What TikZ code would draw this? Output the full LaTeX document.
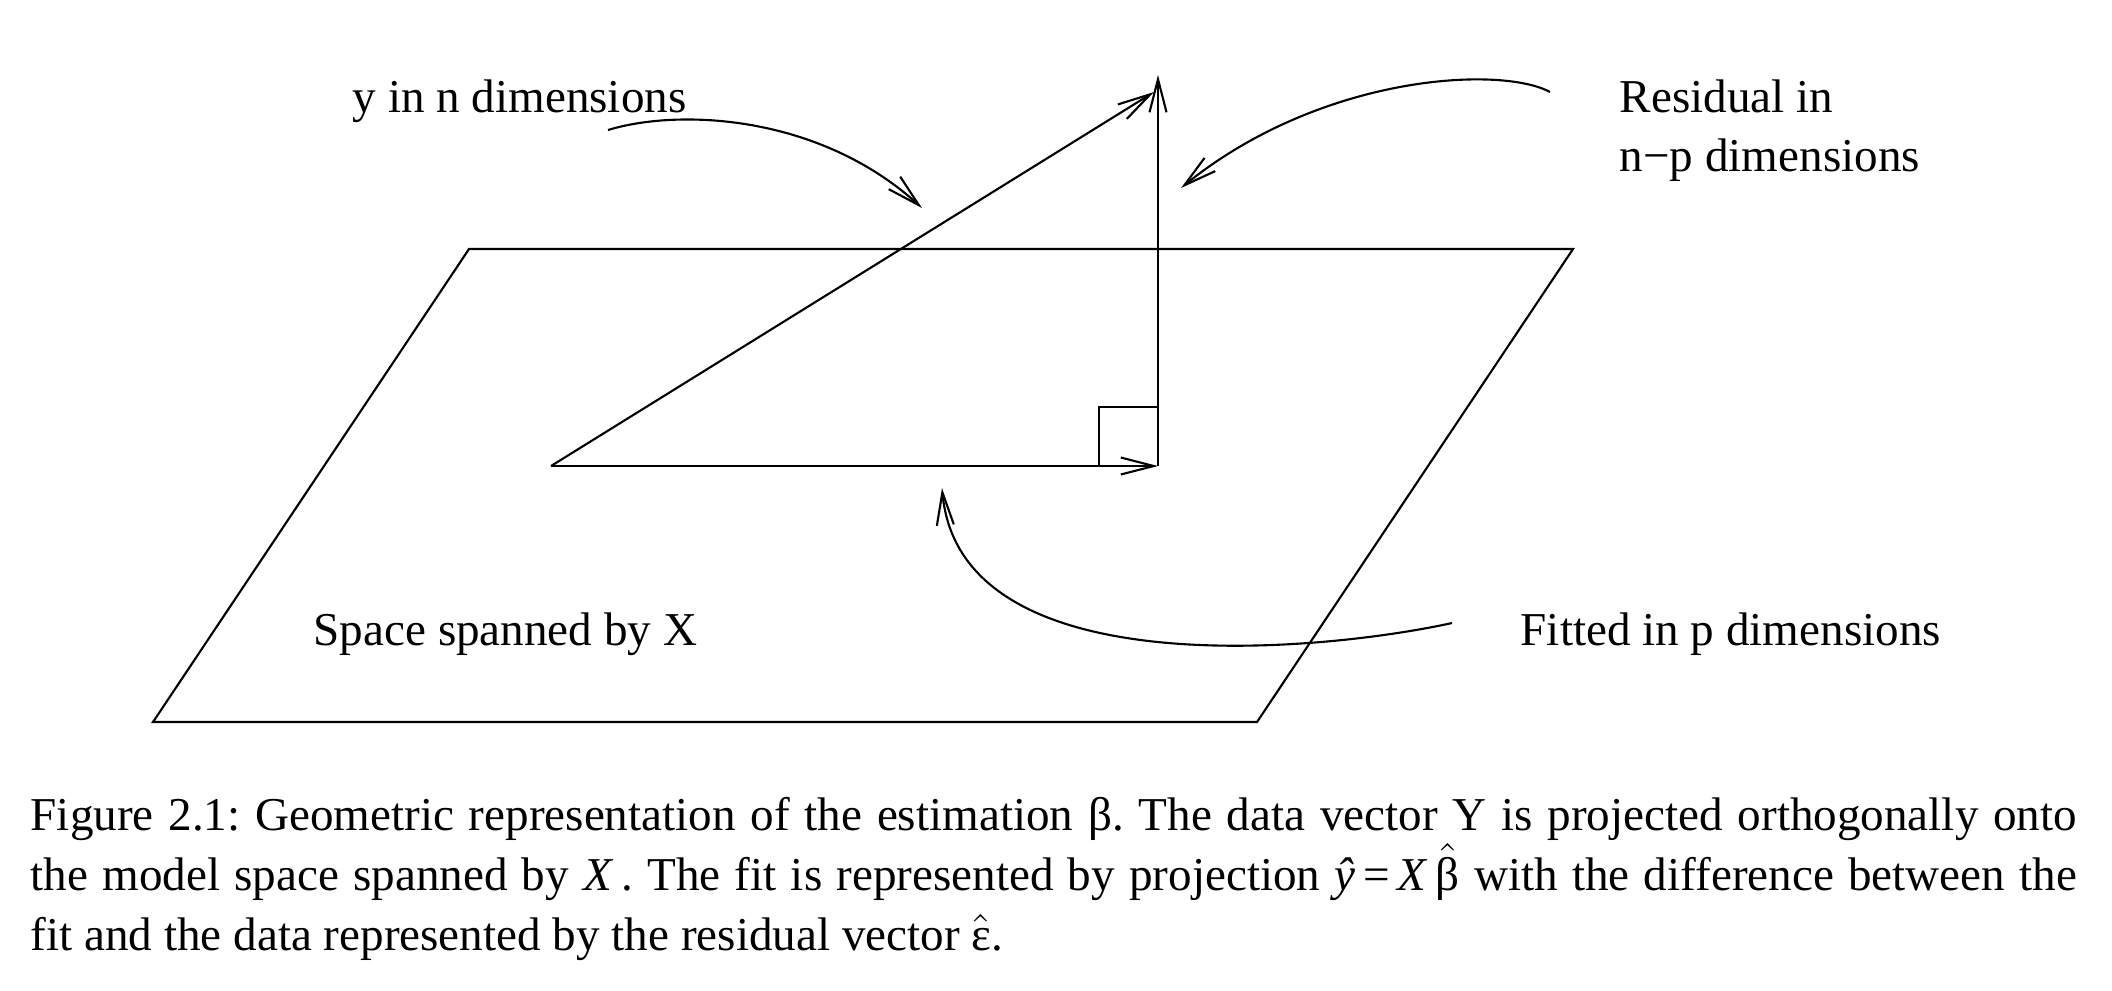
\documentclass[tikz,border=0pt]{standalone}
\usepackage{fontspec}
\setmainfont{Liberation Serif}
\usetikzlibrary{arrows.meta}
\newcommand{\lw}{0.6pt}
\newcommand{\tipLen}{3.3mm}
\newcommand{\tipWid}{1.7mm}
\tikzset{
	vec/.style={line width=\lw, -{Straight Barb[length=\tipLen, width=\tipWid]}},
	plane/.style={line width=\lw, line join=miter},
	lbl/.style={anchor=base west, inner sep=0pt, font=\fontsize{13.4pt}{16.6pt}\selectfont},
}

\begin{document}
\frenchspacing
\begin{tikzpicture}[x=0.01cm, y=-0.01cm]
	\useasboundingbox (0,0) rectangle (2112,990);
	% the model space
	\coordinate (tl) at (469,249);
	\coordinate (tr) at (1573,249);
	\coordinate (br) at (1257,722);
	\coordinate (bl) at (153,722);
	\draw[plane] (tl) -- (tr) -- (br) -- (bl) -- cycle;
	% vectors
	\coordinate (O) at (551,466);
	\coordinate (P) at (1158,466);
	\coordinate (Y) at (1158,75);
	\coordinate (yend) at (1154,92);
	\draw[vec] (O) -- (yend);
	\draw[vec] (P) -- (Y);
	\draw[vec] (O) -- (P);
	\draw[line width=\lw] (1158,407) -| (1099,466);
	% labels
	\node[lbl] (ylab) at (352,112) {y in n dimensions};
	\node[lbl, align=left] (reslab) at (1619,171) {Residual in\\n−p dimensions};
	\node[lbl] (spacelab) at (313,645) {Space spanned by X};
	\node[lbl] (fitlab) at (1520,645) {Fitted in p dimensions};
	% pointers
	\coordinate (ys) at (608,130);
	\coordinate (ye) at (922,208);
	\coordinate (rs) at (1550,92);
	\coordinate (re) at (1181,188);
	\coordinate (fs) at (1452,623);
	\coordinate (fe) at (942,488);
	\draw[vec] (ys) .. controls (680,108) and (820,115) .. (ye);
	\draw[vec] (rs) .. controls (1500,65) and (1320,75) .. (re);
	\draw[vec] (fs) .. controls (1330,650) and (960,690) .. (fe);
	% caption
	\node[lbl, font=\fontsize{13.4pt}{17.1pt}\selectfont, text width=20.45cm, align=justify] (cap) at (30,830) {Figure 2.1: Geometric representation of the estimation β. The data vector Y is projected orthogonally onto\linebreak the model space spanned by \textit{X}\,. The fit is represented by projection \textit{ŷ}\,=\,\textit{X}\,$\hat{\mbox{β}}$ with the difference between the\linebreak fit and the data represented by the residual vector $\hat{\mbox{ε}}$.};
\end{tikzpicture}
\end{document}
